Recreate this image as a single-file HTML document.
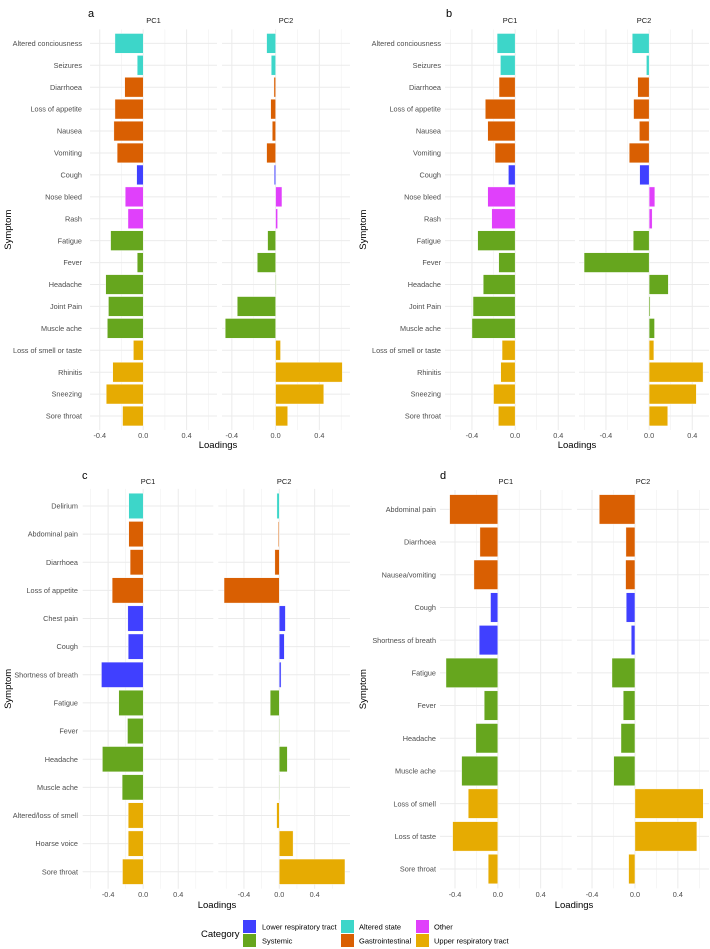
<!DOCTYPE html>
<html><head><meta charset="utf-8">
<style>
html,body{margin:0;padding:0;background:#fff;}
svg{display:block;font-family:"Liberation Sans",Arial,sans-serif;}
</style></head>
<body>
<svg id="chart" width="710" height="949" viewBox="0 0 710 949" xmlns="http://www.w3.org/2000/svg">
<g id="panels"></g>
<g>
  <text x="201" y="937" font-size="9.5" fill="#000">Category</text>
  <rect x="243" y="920" width="13" height="13" fill="#4040FF"/>
  <text x="262" y="929.5" font-size="7.5" fill="#000">Lower respiratory tract</text>
  <rect x="243" y="934" width="13" height="13" fill="#66A61E"/>
  <text x="262" y="943.5" font-size="7.5" fill="#000">Systemic</text>
  <rect x="341" y="920" width="13" height="13" fill="#3DD6C9"/>
  <text x="359" y="929.5" font-size="7.5" fill="#000">Altered state</text>
  <rect x="341" y="934" width="13" height="13" fill="#D95F02"/>
  <text x="359" y="943.5" font-size="7.5" fill="#000">Gastrointestinal</text>
  <rect x="416" y="920" width="13" height="13" fill="#E040FB"/>
  <text x="434" y="929.5" font-size="7.5" fill="#000">Other</text>
  <rect x="416" y="934" width="13" height="13" fill="#E6AB02"/>
  <text x="434" y="943.5" font-size="7.5" fill="#000">Upper respiratory tract</text>
</g>
</svg>
<script>
// ---- data ----
const symptomsA = ["Altered conciousness","Seizures","Diarrhoea","Loss of appetite","Nausea","Vomiting","Cough","Nose bleed","Rash","Fatigue","Fever","Headache","Joint Pain","Muscle ache","Loss of smell or taste","Rhinitis","Sneezing","Sore throat"];
const categoriesA = ["AS","AS","GI","GI","GI","GI","LR","OT","OT","SY","SY","SY","SY","SY","UR","UR","UR","UR"];
const pc1A = [-0.26,-0.055,-0.17,-0.26,-0.27,-0.24,-0.06,-0.165,-0.14,-0.30,-0.055,-0.345,-0.32,-0.33,-0.09,-0.28,-0.34,-0.19];
const pc2A = [-0.082,-0.04,-0.015,-0.045,-0.03,-0.082,-0.012,0.058,0.018,-0.073,-0.167,0.003,-0.35,-0.46,0.045,0.61,0.44,0.11];

const symptomsB = symptomsA.slice();
const categoriesB = categoriesA.slice();
const pc1B = [-0.167,-0.136,-0.149,-0.276,-0.254,-0.186,-0.062,-0.254,-0.217,-0.347,-0.152,-0.295,-0.39,-0.40,-0.121,-0.133,-0.20,-0.155];
const pc2B = [-0.156,-0.025,-0.106,-0.144,-0.09,-0.184,-0.0875,0.053,0.028,-0.147,-0.603,0.178,0.01,0.05,0.044,0.50,0.4375,0.172];

const symptomsC = ["Delirium","Abdominal pain","Diarrhoea","Loss of appetite","Chest pain","Cough","Shortness of breath","Fatigue","Fever","Headache","Muscle ache","Altered/loss of smell","Hoarse voice","Sore throat"];
const categoriesC = ["AS","GI","GI","GI","LR","LR","LR","SY","SY","SY","SY","UR","UR","UR"];
const pc1C = [-0.164,-0.164,-0.149,-0.354,-0.175,-0.171,-0.476,-0.278,-0.179,-0.465,-0.24,-0.171,-0.171,-0.236];
const pc2C = [-0.027,-0.01,-0.05,-0.625,0.069,0.057,0.02,-0.103,0.003,0.091,0.002,-0.03,0.156,0.743];

const symptomsD = ["Abdominal pain","Diarrhoea","Nausea/vomiting","Cough","Shortness of breath","Fatigue","Fever","Headache","Muscle ache","Loss of smell","Loss of taste","Sore throat"];
const categoriesD = ["GI","GI","GI","LR","LR","SY","SY","SY","SY","UR","UR","UR"];
const pc1D = [-0.45,-0.167,-0.223,-0.068,-0.174,-0.484,-0.127,-0.205,-0.338,-0.276,-0.422,-0.09];
const pc2D = [-0.332,-0.084,-0.087,-0.081,-0.034,-0.214,-0.109,-0.13,-0.198,0.636,0.577,-0.059];

const tickValues = [-0.4,0.0,0.4];
const tickLabels = ["-0.4","0.0","0.4"];
const minorTicks = [-0.6,-0.2,0.2,0.6];

// ---- layout ----
const colors = {AS:"#3DD6C9",GI:"#D95F02",LR:"#4040FF",OT:"#E040FB",SY:"#66A61E",UR:"#E6AB02"};
const panels = [
 {id:"a",sym:symptomsA,cat:categoriesA,v1:pc1A,v2:pc2A,dom:[-0.49,0.68],f1:[90,217],f2:[222,350],y0:32.4,y1:427,lblX:82,titleY:23,tickY:438,axY:448,axX:218,symX:8,letterX:88,letterY:17},
 {id:"b",sym:symptomsB,cat:categoriesB,v1:pc1B,v2:pc2B,dom:[-0.65,0.555],f1:[445,575],f2:[579,709],y0:32.4,y1:427,lblX:441,titleY:23,tickY:438,axY:448,axX:577,symX:363,letterX:446,letterY:17},
 {id:"c",sym:symptomsC,cat:categoriesC,v1:pc1C,v2:pc2C,dom:[-0.69,0.8],f1:[82.7,213.3],f2:[218.3,350],y0:491.9,y1:885.8,lblX:78,titleY:484,tickY:897,axY:908,axX:217,symX:8,letterX:82,letterY:479},
 {id:"d",sym:symptomsD,cat:categoriesD,v1:pc1D,v2:pc2D,dom:[-0.54,0.69],f1:[440,571.7],f2:[577,709],y0:493,y1:885.4,lblX:436,titleY:484,tickY:897,axY:908,axX:574,symX:363,letterX:440,letterY:479}
];
const NS="http://www.w3.org/2000/svg";
const root=document.getElementById("panels");
function mk(tag,attrs,parent){const e=document.createElementNS(NS,tag);for(const k in attrs)e.setAttribute(k,attrs[k]);parent.appendChild(e);return e;}

panels.forEach(p=>{
  const g=mk("g",{},root);
  
  
  const n=p.sym.length, step=(p.y1-p.y0)/n;
  const yc=i=>p.y0+step*(i+0.5);
  const letter=mk("text",{x:p.letterX,y:p.letterY,"font-size":11,fill:"#000"},g);
  letter.textContent=p.id;
  
  
  const sy=mk("text",{x:0,y:0,"font-size":9.5,fill:"#000","text-anchor":"middle",transform:`translate(${p.symX+3},${(p.y0+p.y1)/2}) rotate(-90)`},g);
  sy.textContent="Symptom";
  
  
  const ax=mk("text",{x:p.axX,y:p.axY,"font-size":9.5,fill:"#000","text-anchor":"middle"},g);
  ax.textContent="Loadings";
  
  
  p.sym.forEach((s,i)=>{
    const t=mk("text",{x:p.lblX,y:yc(i)+2.6,"font-size":7.3,fill:"#4D4D4D","text-anchor":"end"},g);
    t.textContent=s;
    
    
  });
  [[p.f1,p.v1,"PC1"],[p.f2,p.v2,"PC2"]].forEach(([fr,vals,name])=>{
    const fg=mk("g",{},g);
    
    
    const xs=v=>fr[0]+(v-p.dom[0])/(p.dom[1]-p.dom[0])*(fr[1]-fr[0]);
    minorTicks.forEach(v=>{const x=xs(v);if(x>=fr[0]&&x<=fr[1]){const l=mk("line",{x1:x,x2:x,y1:p.y0-3,y2:p.y1+3,stroke:"#F1F1F1","stroke-width":0.6},fg);
      
      }});
    tickValues.forEach((v,k)=>{const x=xs(v);const l=mk("line",{x1:x,x2:x,y1:p.y0-3,y2:p.y1+3,stroke:"#EBEBEB","stroke-width":1},fg);
      
      
      const t=mk("text",{x:x,y:p.tickY,"font-size":7.3,fill:"#4D4D4D","text-anchor":"middle"},fg);t.textContent=tickLabels[k];
      
      });
    p.sym.forEach((s,i)=>{const l=mk("line",{x1:fr[0],x2:fr[1],y1:yc(i),y2:yc(i),stroke:"#EBEBEB","stroke-width":1},fg);
      
      });
    const st=mk("text",{x:(fr[0]+fr[1])/2,y:p.titleY,"font-size":7.5,fill:"#1A1A1A","text-anchor":"middle"},fg);
    st.textContent=name;
    
    
    vals.forEach((v,i)=>{
      const x0=xs(0),x1=xs(v);
      const r=mk("rect",{x:Math.min(x0,x1),y:yc(i)-step*0.45,width:Math.max(Math.abs(x1-x0),0.6),height:step*0.9,fill:colors[p.cat[i]],stroke:"#fff","stroke-width":0.4},fg);
      
      
    });
  });
});
</script>
</body></html>
